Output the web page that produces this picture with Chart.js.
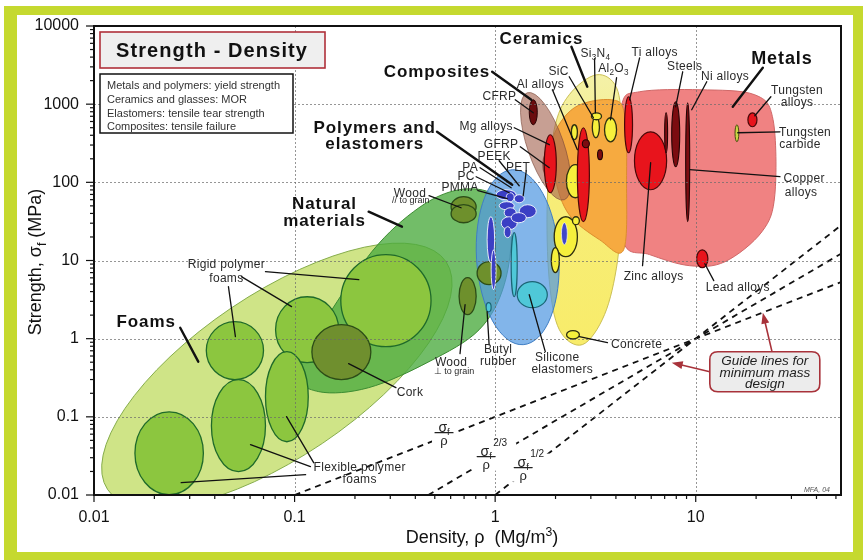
<!DOCTYPE html>
<html>
<head>
<meta charset="utf-8">
<script src="https://cdn.jsdelivr.net/npm/chart.js@4.4.1/dist/chart.umd.min.js"></script>
<style>
  html, body { margin: 0; padding: 0; background: #fff; }
  canvas { display: block; }
</style>
</head>
<body>
<canvas id="chart" width="863" height="560"></canvas>
<script>
const FONT = "Arial, 'Liberation Sans', Helvetica, sans-serif";

// ---- Axis ticks ----
const densityTicks = [0.01, 0.1, 1, 10];
const densityTickLabels = ['0.01', '0.1', '1', '10'];
const strengthTicks = [0.01, 0.1, 1, 10, 100, 1000, 10000];
const strengthTickLabels = ['0.01', '0.1', '1', '10', '100', '1000', '10000'];

// ---- Family envelopes, [density Mg/m3, strength MPa] ----
// ellipses given by the two ends of their long axis
const foamsEnvelope = [[0.0117, 0.0117], [0.569, 9.66]];
const compositesEnvelope = [[1.445, 1400], [2.21, 59.8]];
const polymersEnvelope = [[1.216, 145], [1.38, 0.838]];
// free outlines
const naturalEnvelope = [[0.0955, 0.379], [0.132, 1.30], [0.243, 13.0], [0.417, 47.3], [0.661, 80.4], [0.989, 69.4],
  [1.20, 28.7], [1.11, 4.91], [0.832, 1.30], [0.468, 0.508], [0.234, 0.236], [0.132, 0.210]];
const ceramicsEnvelope = [[3.20, 2377], [4.03, 1622], [4.27, 471], [4.27, 59.8], [4.07, 9.66], [3.51, 2.03],
  [2.72, 0.838], [2.09, 1.30], [1.86, 5.68], [1.82, 59.8], [1.97, 471], [2.34, 1318]];
const techCeramicsEnvelope = [[2.48, 900], [3.80, 1138], [4.42, 731], [4.52, 108], [4.37, 13.7], [3.31, 18.5],
  [2.34, 38.5], [2.0, 108], [1.93, 351]];
const metalsEnvelope = [[4.27, 982], [5.25, 1442], [10.5, 1528], [19.7, 1318], [24.3, 632], [24.8, 69.4],
  [21.4, 23.4], [14.0, 9.66], [9.33, 8.58], [5.89, 11.9], [4.37, 16.9], [4.07, 145]];

// ---- Material property ranges [density lo, density hi, strength lo, strength hi] ----
const rigidFoams = [[0.0363, 0.070, 0.30, 1.65], [0.0804, 0.166, 0.493, 3.44], [0.170, 0.479, 0.79, 11.9]];
const flexibleFoams = [[0.016, 0.0351, 0.0101, 0.116], [0.0385, 0.0716, 0.0199, 0.299], [0.0716, 0.117, 0.048, 0.682]];
const corkRange = [[0.122, 0.240, 0.30, 1.51]];
const woodRanges = [[0.603, 0.804, 36, 65.5], [0.603, 0.804, 30.4, 52], [0.661, 0.804, 2.03, 6.03], [0.813, 1.07, 4.91, 9.66]];
const polymerRanges = [[1.01, 1.274, 59.8, 80.4], [1.135, 1.245, 56.5, 73.6], [1.245, 1.396, 54.8, 69.4],
  [1.318, 1.603, 35.3, 51.7], [1.047, 1.245, 44.6, 56.5], [1.109, 1.274, 35.3, 47.3], [1.072, 1.288, 24.8, 36.3],
  [1.109, 1.202, 19.6, 27.1], [1.202, 1.429, 30.4, 40.9], [0.912, 0.994, 9.37, 36.3], [0.955, 1.01, 4.23, 13.7]];
const elastomerRanges = [[1.202, 1.288, 3.44, 22.7], [0.902, 0.955, 2.21, 2.89], [1.288, 1.82, 2.49, 5.36], [0.933, 1.0, 10.9, 19.6]];
const ceramicRanges = [[1.97, 2.57, 11.2, 36.3], [2.43, 2.63, 28.7, 36.3], [1.905, 2.09, 6.98, 14.6], [2.265, 2.786, 63.5, 168],
  [2.27, 2.63, 0.99, 1.27], [3.05, 3.31, 372, 690], [3.02, 3.39, 632, 776], [2.40, 2.57, 351, 545], [3.51, 4.03, 330, 670]];
const glassRanges = [[2.14, 2.29, 15.9, 30.4]];
const carbideRanges = [[15.7, 16.4, 330, 545]];
const cfrpRange = [[1.479, 1.622, 545, 1140]];
const gfrpRange = [[1.718, 2.018, 108, 261]];
const metalRanges = [[1.758, 2.018, 73.6, 406], [2.57, 2.95, 31.3, 499], [4.42, 4.84, 239, 1244], [4.95, 7.16, 80.4, 443],
  [18.2, 20.2, 514, 776], [10.1, 11.5, 8.09, 13.7]];
const darkMetalRanges = [[7.59, 8.32, 158, 1073], [7.0, 7.24, 239, 776], [8.91, 9.33, 31.3, 1042], [2.72, 2.95, 277, 351], [3.24, 3.43, 195, 261]];

// ---- Minimum-mass guide lines ----
const guideSlope1 = [{ x: 0.1, y: 0.01 }, { x: 53, y: 5.3 }];
const guideSlope15 = [{ x: 0.464, y: 0.01 }, { x: 53, y: 12.2 }];
const guideSlope2 = [{ x: 1, y: 0.01 }, { x: 53, y: 28.1 }];
const guideLabels = [[0.556, 0.0628, ''], [0.902, 0.0310, '2/3'], [1.38, 0.0224, '1/2']];

// ---- Labels [text, density, strength] ----
const familyLabels = [['Ceramics', 1.70, 7060], ['Composites', 0.513, 2670], ['Metals', 26.9, 3920],
  ['Polymers and', 0.251, 514], ['elastomers', 0.251, 321], ['Natural', 0.141, 54.8], ['materials', 0.141, 33.2],
  ['Foams', 0.0182, 1.70]];
const materialLabels = [['Si_3N_4', 3.16, 4540], ['Ti alloys', 6.24, 4680], ['Steels', 8.81, 3100], ['Ni alloys', 14.0, 2310],
  ['Al_2O_3', 3.89, 2920], ['SiC', 2.07, 2670], ['Al alloys', 1.68, 1820], ['CFRP', 1.05, 1280], ['Mg alloys', 0.902, 530],
  ['GFRP', 1.07, 312], ['PEEK', 0.989, 219], ['PET', 1.30, 158], ['PA', 0.750, 158], ['PC', 0.716, 121], ['PMMA', 0.668, 87.9],
  ['Wood', 0.376, 73.6], ['Wood', 0.603, 0.508], ['Butyl', 1.035, 0.745], ['rubber', 1.035, 0.523], ['Silicone', 2.04, 0.589],
  ['elastomers', 2.16, 0.413], ['Cork', 0.376, 0.210], ['Concrete', 5.07, 0.863], ['Zinc alloys', 6.17, 6.39],
  ['Lead alloys', 16.2, 4.62], ['Tungsten', 32.0, 1530], ['alloys', 32.0, 1070], ['Tungsten', 35.1, 443], ['carbide', 33.1, 312],
  ['Copper', 34.7, 115], ['alloys', 33.5, 75.9], ['Rigid polymer', 0.0457, 9.10], ['foams', 0.0457, 6.03],
  ['Flexible polymer', 0.211, 0.0231], ['foams', 0.211, 0.0162]];
const grainNotes = [['// to grain', 0.38, 59.8], ['\u22a5 to grain', 0.624, 0.390]];

// ---- Leader lines [density1, strength1, density2, strength2] ----
const familyLeaders = [[2.40, 5420, 2.88, 1670], [0.966, 2596, 1.514, 1138], [21.6, 2920, 15.3, 926],
  [0.513, 443, 1.216, 93.2], [0.234, 42.1, 0.343, 27.1], [0.0269, 1.38, 0.0331, 0.508]];
const materialLeaders = [[3.13, 3810, 3.16, 776], [2.34, 2240, 3.09, 670], [4.03, 2177, 3.76, 632], [5.25, 3920, 4.68, 1138],
  [8.61, 2596, 7.94, 926], [11.35, 1933, 9.55, 848], [1.93, 1528, 2.57, 261], [1.259, 1138, 1.549, 776],
  [1.245, 499, 1.862, 303], [1.334, 285, 1.862, 154], [1.047, 189, 1.318, 90.5], [1.429, 141, 1.38, 67.4],
  [0.841, 154, 1.202, 85.3], [0.804, 118, 1.175, 73.6], [0.822, 78.1, 1.148, 61.7], [0.468, 67.4, 0.676, 47.3],
  [0.668, 0.643, 0.708, 2.72], [0.933, 0.838, 0.912, 2.21], [1.778, 0.682, 1.479, 3.65], [0.320, 0.236, 0.186, 0.479],
  [3.63, 0.889, 2.63, 1.06], [5.43, 8.58, 5.96, 178], [12.3, 5.52, 11.1, 9.10], [23.7, 1244, 19.7, 711],
  [26.3, 443, 16.2, 431], [26.3, 118, 9.33, 145], [0.0716, 7.19, 0.209, 5.68], [0.0543, 6.21, 0.0966, 2.57],
  [0.0468, 4.62, 0.0507, 1.06], [0.1245, 0.0259, 0.0912, 0.1007], [0.120, 0.0231, 0.0603, 0.0441],
  [0.1135, 0.0182, 0.0272, 0.0144]];

// ---- Guide-line note ----
const guideNoteCentre = [22.1, 0.378];
const guideNoteLines = ['Guide lines for', 'minimum mass', 'design'];
const guideArrows = [[24.0, 0.682, 21.6, 2.15], [11.75, 0.378, 7.59, 0.493]];

const noteLines = ['Metals and polymers: yield strength', 'Ceramics and glasses: MOR',
  'Elastomers: tensile tear strength', 'Composites: tensile failure'];

// ---- drawing styles ----
const envelopeStyles = [
  { shape: foamsEnvelope, k: 0.40, fill: '#cfe487', stroke: '#86ad4c' },
  { shape: naturalEnvelope, fill: 'rgba(74,170,62,0.78)', stroke: '#3d8c33' },
  { shape: ceramicsEnvelope, fill: 'ceramicGradient', stroke: '#cbbf55' },
  { shape: metalsEnvelope, fill: '#f08282', stroke: '#d06868' },
  { shape: techCeramicsEnvelope, fill: '#f6aa40', stroke: '#dc8d2c' },
  { shape: compositesEnvelope, k: 0.32, fill: 'rgba(165,100,80,0.62)', stroke: 'rgba(120,70,55,0.6)' },
  { shape: polymersEnvelope, k: 0.47, fill: 'rgba(82,152,226,0.72)', stroke: '#3f7ec4' }
];
const bubbleStyles = [
  { ranges: rigidFoams, fill: '#8cc63f', stroke: '#1f6a2a', lw: 1.3 },
  { ranges: flexibleFoams, fill: '#8cc63f', stroke: '#1f6a2a', lw: 1.3 },
  { ranges: corkRange, fill: '#6f8f2e', stroke: '#2c4c17', lw: 1.3 },
  { ranges: woodRanges, fill: '#6e902c', stroke: '#2c4c17', lw: 1.3 },
  { ranges: elastomerRanges, fill: '#4fc8d8', stroke: '#1b6575', lw: 1.2 },
  { ranges: polymerRanges, fill: '#3b3fc4', stroke: 'rgba(255,255,255,0.85)', lw: 1 },
  { ranges: ceramicRanges, fill: '#f6f03c', stroke: '#2f2f10', lw: 1.3 },
  { ranges: glassRanges, fill: '#4046c8', stroke: 'rgba(255,255,255,0.8)', lw: 0.8 },
  { ranges: cfrpRange, fill: '#6a0c0e', stroke: '#2a0405', lw: 1 },
  { ranges: gfrpRange, fill: 'rgba(110,15,15,0.55)', stroke: null, lw: 0 },
  { ranges: metalRanges, fill: '#e8141c', stroke: '#4a0808', lw: 1.2 },
  { ranges: darkMetalRanges, fill: '#7c0c10', stroke: '#220404', lw: 1.1 },
  { ranges: carbideRanges, fill: '#c9d844', stroke: '#4a4a10', lw: 1 }
];

// ---- helpers ----
function toPx(chart, d, s) {
  return [chart.scales.x.getPixelForValue(d), chart.scales.y.getPixelForValue(s)];
}
function pathRange(ctx, chart, r) {
  const [x1, y1] = toPx(chart, r[0], r[3]);
  const [x2, y2] = toPx(chart, r[1], r[2]);
  ctx.beginPath();
  ctx.ellipse((x1 + x2) / 2, (y1 + y2) / 2, Math.max((x2 - x1) / 2, 0.8), Math.max((y2 - y1) / 2, 0.8), 0, 0, Math.PI * 2);
}
function pathAxisEllipse(ctx, chart, ends, k) {
  const [ax, ay] = toPx(chart, ends[0][0], ends[0][1]);
  const [bx, by] = toPx(chart, ends[1][0], ends[1][1]);
  const half = Math.hypot(bx - ax, by - ay) / 2;
  ctx.beginPath();
  ctx.ellipse((ax + bx) / 2, (ay + by) / 2, half, half * k, Math.atan2(by - ay, bx - ax), 0, Math.PI * 2);
}
function pathOutline(ctx, chart, pts) {
  const p = pts.map(q => toPx(chart, q[0], q[1]));
  const n = p.length;
  ctx.beginPath();
  ctx.moveTo(p[0][0], p[0][1]);
  for (let i = 0; i < n; i++) {
    const p0 = p[(i - 1 + n) % n], p1 = p[i], p2 = p[(i + 1) % n], p3 = p[(i + 2) % n];
    ctx.bezierCurveTo(p1[0] + (p2[0] - p0[0]) / 6, p1[1] + (p2[1] - p0[1]) / 6,
      p2[0] - (p3[0] - p1[0]) / 6, p2[1] - (p3[1] - p1[1]) / 6, p2[0], p2[1]);
  }
  ctx.closePath();
}
function parseRich(str) {
  const segs = [];
  for (let i = 0; i < str.length; i++) {
    const ch = str[i];
    if (ch === '_' && i + 1 < str.length) { segs.push([str[i + 1], 'sub']); i++; }
    else if (ch === '^' && str[i + 1] === '{') { const j = str.indexOf('}', i); segs.push([str.slice(i + 2, j), 'sup']); i = j; }
    else if (segs.length && segs[segs.length - 1][1] === null) segs[segs.length - 1][0] += ch;
    else segs.push([ch, null]);
  }
  return segs;
}
function drawRich(ctx, str, x, y, size, opts) {
  const o = Object.assign({ weight: 'normal', style: 'normal', align: 'center', spacing: 0, color: '#222' }, opts || {});
  const fontFor = s => `${o.style} ${o.weight} ${s}px ${FONT}`;
  ctx.letterSpacing = o.spacing + 'px';
  let w = 0;
  const items = parseRich(str).map(([t, kind]) => {
    const s = kind ? size * 0.68 : size;
    ctx.font = fontFor(s);
    const m = ctx.measureText(t).width;
    w += m;
    return { t, kind, s, m };
  });
  let cx = o.align === 'center' ? x - w / 2 : o.align === 'right' ? x - w : x;
  ctx.textAlign = 'left';
  ctx.textBaseline = 'alphabetic';
  ctx.fillStyle = o.color;
  const base = y + size * 0.36;
  for (const it of items) {
    ctx.font = fontFor(it.s);
    const dy = it.kind === 'sub' ? size * 0.24 : it.kind === 'sup' ? -size * 0.4 : 0;
    ctx.fillText(it.t, cx, base + dy);
    cx += it.m;
  }
  ctx.letterSpacing = '0px';
}
function segment(ctx, x1, y1, x2, y2) {
  ctx.beginPath(); ctx.moveTo(x1, y1); ctx.lineTo(x2, y2); ctx.stroke();
}
function roundRect(ctx, x, y, w, h, r) {
  ctx.beginPath();
  ctx.moveTo(x + r, y); ctx.lineTo(x + w - r, y); ctx.quadraticCurveTo(x + w, y, x + w, y + r);
  ctx.lineTo(x + w, y + h - r); ctx.quadraticCurveTo(x + w, y + h, x + w - r, y + h);
  ctx.lineTo(x + r, y + h); ctx.quadraticCurveTo(x, y + h, x, y + h - r);
  ctx.lineTo(x, y + r); ctx.quadraticCurveTo(x, y, x + r, y);
  ctx.closePath();
}

const ashbyPlugin = {
  id: 'ashby',
  beforeDraw(chart) {
    const ctx = chart.ctx;
    ctx.save();
    ctx.fillStyle = '#ffffff';
    ctx.fillRect(0, 0, chart.width, chart.height);
    ctx.fillStyle = '#c5d92f';
    ctx.fillRect(4, 6, 859, 554);
    ctx.fillStyle = '#ffffff';
    ctx.fillRect(17, 15, 836, 537);
    ctx.restore();
  },
  beforeDatasetsDraw(chart) {
    const ctx = chart.ctx, a = chart.chartArea;
    ctx.save();
    ctx.beginPath(); ctx.rect(a.left, a.top, a.right - a.left, a.bottom - a.top); ctx.clip();
    for (const e of envelopeStyles) {
      if (e.k) pathAxisEllipse(ctx, chart, e.shape, e.k); else pathOutline(ctx, chart, e.shape);
      if (e.fill === 'ceramicGradient') {
        const g = ctx.createLinearGradient(0, chart.scales.y.getPixelForValue(2377), 0, chart.scales.y.getPixelForValue(0.838));
        g.addColorStop(0, '#f4f1a8'); g.addColorStop(0.45, '#f7ed78'); g.addColorStop(1, '#f8ec6a');
        ctx.fillStyle = g;
      } else ctx.fillStyle = e.fill;
      ctx.fill();
      ctx.lineWidth = 1; ctx.strokeStyle = e.stroke; ctx.stroke();
    }
    for (const b of bubbleStyles) {
      for (const r of b.ranges) {
        pathRange(ctx, chart, r);
        ctx.fillStyle = b.fill; ctx.fill();
        if (b.stroke) { ctx.lineWidth = b.lw; ctx.strokeStyle = b.stroke; ctx.stroke(); }
      }
    }
    ctx.restore();
  },
  afterDatasetsDraw(chart) {
    const ctx = chart.ctx, a = chart.chartArea, xs = chart.scales.x, ys = chart.scales.y;
    ctx.save();
    // dotted decade grid
    ctx.strokeStyle = 'rgba(105,105,105,0.7)';
    ctx.lineWidth = 1;
    ctx.setLineDash([2, 2]);
    for (const v of densityTicks) {
      const x = Math.round(xs.getPixelForValue(v)) + 0.5;
      if (x > a.left + 2 && x < a.right - 2) segment(ctx, x, a.top, x, a.bottom);
    }
    for (const v of strengthTicks) {
      const y = Math.round(ys.getPixelForValue(v)) + 0.5;
      if (y > a.top + 2 && y < a.bottom - 2) segment(ctx, a.left, y, a.right, y);
    }
    ctx.setLineDash([]);
    // plot frame and tick marks
    ctx.strokeStyle = '#111';
    ctx.lineWidth = 2;
    ctx.strokeRect(a.left, a.top, a.right - a.left, a.bottom - a.top);
    ctx.lineWidth = 1.2;
    for (let e = -2; e <= 1; e++) for (let m = 1; m <= 9; m++) {
      const v = m * Math.pow(10, e);
      if (v > xs.max) break;
      const x = xs.getPixelForValue(v);
      segment(ctx, x, a.bottom, x, a.bottom + (m === 1 ? 7 : 4));
    }
    for (let e = -2; e <= 4; e++) for (let m = 1; m <= 9; m++) {
      const v = m * Math.pow(10, e);
      if (v > ys.max) break;
      const y = ys.getPixelForValue(v);
      segment(ctx, a.left - (m === 1 ? 8 : 4), y, a.left, y);
    }

    // leader lines
    ctx.strokeStyle = '#111';
    ctx.lineCap = 'round';
    ctx.lineWidth = 2.4;
    for (const l of familyLeaders) {
      const [x1, y1] = toPx(chart, l[0], l[1]); const [x2, y2] = toPx(chart, l[2], l[3]);
      segment(ctx, x1, y1, x2, y2);
    }
    ctx.lineWidth = 1.3;
    for (const l of materialLeaders) {
      const [x1, y1] = toPx(chart, l[0], l[1]); const [x2, y2] = toPx(chart, l[2], l[3]);
      segment(ctx, x1, y1, x2, y2);
    }

    // labels
    for (const [t, d, s] of familyLabels) {
      const [x, y] = toPx(chart, d, s);
      drawRich(ctx, t, x, y, t === 'Metals' ? 18 : 17, { weight: 'bold', spacing: 0.9, color: '#111' });
    }
    for (const [t, d, s] of materialLabels) {
      const [x, y] = toPx(chart, d, s);
      drawRich(ctx, t, x, y, 12, { spacing: 0.3, color: '#2a2a2a' });
    }
    for (const [t, d, s] of grainNotes) {
      const [x, y] = toPx(chart, d, s);
      drawRich(ctx, t, x, y, 9, { color: '#2a2a2a' });
    }

    // guide line labels
    for (const [d, s, p] of guideLabels) {
      const [x, y] = toPx(chart, d, s);
      ctx.fillStyle = '#fff';
      ctx.fillRect(x - 12, y - 14, 24 + (p ? 18 : 0), 28);
      drawRich(ctx, '\u03c3_f', x, y - 6, 14, { color: '#222' });
      ctx.strokeStyle = '#222'; ctx.lineWidth = 1.2;
      segment(ctx, x - 9, y, x + 9, y);
      drawRich(ctx, '\u03c1', x, y + 8, 13, { color: '#222' });
      if (p) drawRich(ctx, p, x + 7, y - 14, 10, { align: 'left', color: '#222' });
    }

    // guide-line note with arrows
    ctx.strokeStyle = '#a8323a'; ctx.fillStyle = '#a8323a'; ctx.lineWidth = 1.6;
    for (const g of guideArrows) {
      const [x1, y1] = toPx(chart, g[0], g[1]); const [x2, y2] = toPx(chart, g[2], g[3]);
      const ang = Math.atan2(y2 - y1, x2 - x1);
      segment(ctx, x1, y1, x2 - 8 * Math.cos(ang), y2 - 8 * Math.sin(ang));
      ctx.beginPath();
      ctx.moveTo(x2, y2);
      ctx.lineTo(x2 - 11 * Math.cos(ang) + 4 * Math.sin(ang), y2 - 11 * Math.sin(ang) - 4 * Math.cos(ang));
      ctx.lineTo(x2 - 11 * Math.cos(ang) - 4 * Math.sin(ang), y2 - 11 * Math.sin(ang) + 4 * Math.cos(ang));
      ctx.closePath(); ctx.fill();
    }
    const [nx, ny] = toPx(chart, guideNoteCentre[0], guideNoteCentre[1]);
    roundRect(ctx, nx - 55, ny - 20, 110, 40, 8);
    ctx.fillStyle = '#ececec'; ctx.fill();
    ctx.lineWidth = 1.6; ctx.strokeStyle = '#a8323a'; ctx.stroke();
    guideNoteLines.forEach((t, i) => drawRich(ctx, t, nx, ny - 11.5 + i * 11.5, 13.5, { style: 'italic', color: '#222' }));

    // title and note boxes
    ctx.fillStyle = '#efefef';
    ctx.fillRect(a.left + 6, a.top + 6, 225, 36);
    ctx.strokeStyle = '#b0303a'; ctx.lineWidth = 1.6;
    ctx.strokeRect(a.left + 6, a.top + 6, 225, 36);
    drawRich(ctx, 'Strength - Density', a.left + 6 + 112, a.top + 24, 20, { weight: 'bold', spacing: 1.1, color: '#111' });
    ctx.fillStyle = '#fff';
    ctx.fillRect(a.left + 6, a.top + 48, 193, 59);
    ctx.strokeStyle = '#111'; ctx.lineWidth = 1.5;
    ctx.strokeRect(a.left + 6, a.top + 48, 193, 59);
    noteLines.forEach((t, i) => drawRich(ctx, t, a.left + 13, a.top + 59 + i * 13.8, 11, { align: 'left', color: '#333' }));
    drawRich(ctx, 'MFA, 04', a.right - 24, a.bottom - 6, 7, { style: 'italic', color: '#555' });

    // axis titles
    drawRich(ctx, 'Density, \u03c1  (Mg/m^{3})', 482, 537, 18, { color: '#111' });
    ctx.save();
    ctx.translate(35, 262);
    ctx.rotate(-Math.PI / 2);
    drawRich(ctx, 'Strength, \u03c3_f (MPa)', 0, 0, 18, { color: '#111' });
    ctx.restore();
    ctx.restore();
  }
};

const guideDataset = data => ({
  data, showLine: true, borderColor: '#111', borderWidth: 1.8, borderDash: [6, 5],
  pointRadius: 0, pointHoverRadius: 0, fill: false
});

new Chart(document.getElementById('chart'), {
  type: 'scatter',
  data: { datasets: [guideDataset(guideSlope1), guideDataset(guideSlope15), guideDataset(guideSlope2)] },
  options: {
    responsive: false,
    animation: false,
    devicePixelRatio: 1,
    layout: { padding: { top: 26, right: 22, left: 0, bottom: 0 } },
    plugins: { legend: { display: false }, tooltip: { enabled: false } },
    scales: {
      x: {
        type: 'logarithmic', min: 0.01, max: 53,
        afterBuildTicks: s => { s.ticks = densityTicks.map(v => ({ value: v })); },
        afterFit: s => { s.height = 65; },
        grid: { display: false, drawTicks: false },
        border: { display: false },
        ticks: { callback: (v, i) => densityTickLabels[i], font: { family: FONT, size: 16 }, color: '#111',
          padding: 13, maxRotation: 0, autoSkip: false }
      },
      y: {
        type: 'logarithmic', min: 0.01, max: 10000,
        afterBuildTicks: s => { s.ticks = strengthTicks.map(v => ({ value: v })); },
        afterFit: s => { s.width = 94; },
        grid: { display: false, drawTicks: false },
        border: { display: false },
        ticks: { callback: (v, i) => strengthTickLabels[i], font: { family: FONT, size: 16 }, color: '#111',
          padding: 15, autoSkip: false }
      }
    }
  },
  plugins: [ashbyPlugin]
});
</script>
</body>
</html>
